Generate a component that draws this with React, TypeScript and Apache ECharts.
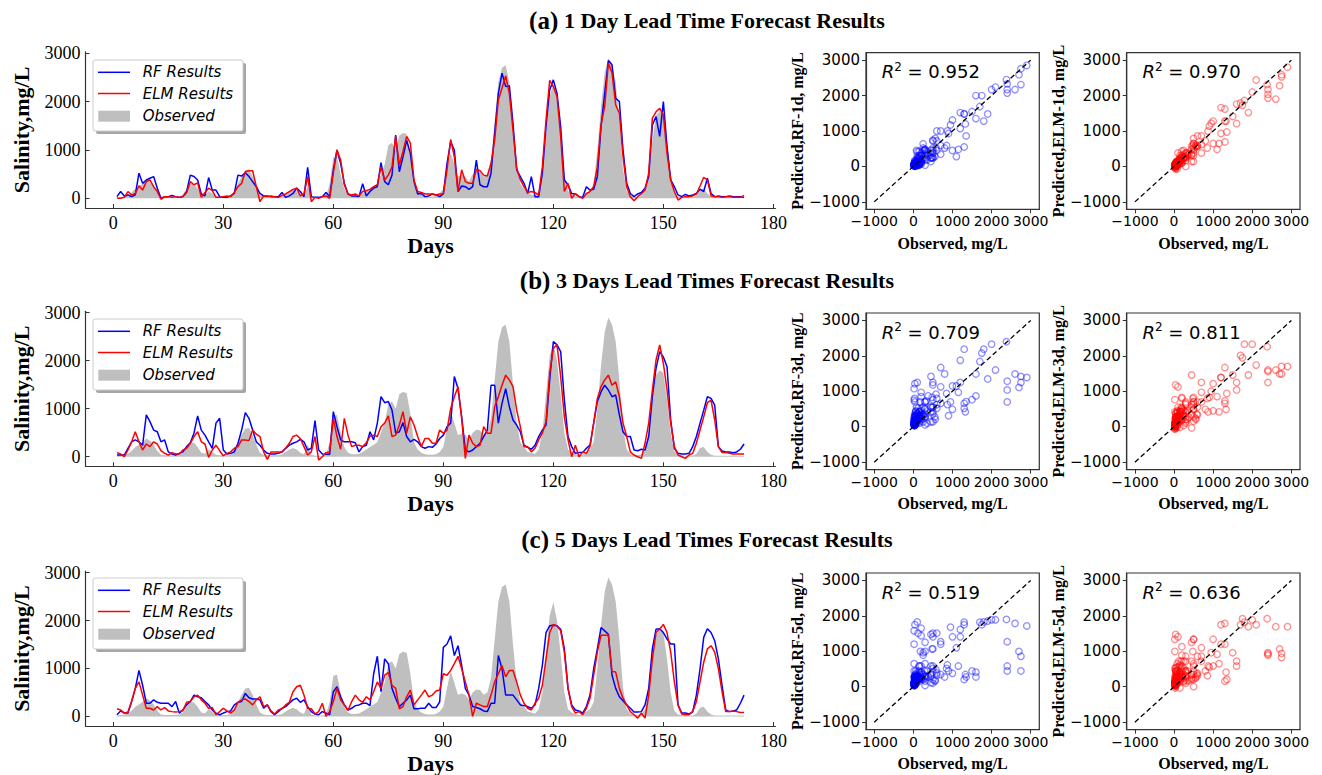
import React, { useEffect, useRef } from 'react';
import * as echarts from 'echarts';

// ---------------- DATA ----------------
const DAYS: number[] = Array.from({ length: 172 }, (_, i) => i + 1);

const OBSERVED = [
  20, 30, 40, 60, 120, 200, 250, 300, 380, 330, 250, 120, 40, 30, 30, 30, 30, 40, 80, 200,
  300, 290, 200, 80, 60, 150, 100, 40, 30, 30, 30, 50, 150, 300, 450, 580, 600, 450, 250, 80,
  40, 30, 30, 30, 30, 50, 100, 150, 180, 150, 80, 50, 250, 40, 20, 20, 20, 40, 300, 850,
  870, 500, 200, 80, 50, 50, 60, 100, 150, 200, 250, 300, 500, 700, 1100, 1150, 1000, 1300, 1350, 1330,
  900, 300, 150, 80, 50, 40, 40, 50, 100, 200, 600, 950, 700, 450, 480, 450, 350, 500, 560, 550,
  450, 500, 800, 1600, 2400, 2700, 2750, 2400, 1500, 700, 300, 200, 100, 80, 60, 150, 500, 1300, 2100, 2380,
  2000, 1300, 500, 150, 80, 50, 30, 40, 100, 150, 300, 1000, 1900, 2600, 2900, 2750, 2400, 1600, 600, 150,
  60, 30, 30, 50, 150, 500, 1200, 1700, 1800, 1750, 1200, 500, 120, 40, 30, 20, 20, 20, 60, 180,
  200, 100, 40, 20, 20, 20, 20, 20, 20, 20, 20, 20,
];

const RF_1D = [
  35, 140, 50, 70, 35, 70, 520, 310, 380, 415, 450, 210, 0, 35, 35, 60, 35, 20, 35, 140,
  480, 450, 380, 90, 50, 430, 170, 170, 35, 20, 20, 50, 100, 480, 460, 530, 450, 345, 240, 100,
  50, 50, 35, 35, 35, 120, 20, 50, 100, 210, 140, 35, 640, 35, 20, 20, 35, 120, 35, 590,
  1000, 720, 310, 90, 50, 50, 35, 300, 50, 140, 210, 240, 740, 345, 280, 480, 1310, 550, 860, 1200,
  930, 345, 90, 100, 35, 50, 90, 70, 35, 90, 720, 1170, 1000, 140, 255, 240, 185, 240, 790, 280,
  240, 240, 520, 1350, 2170, 2590, 2310, 2330, 1550, 590, 450, 310, 100, 450, 35, 35, 520, 1480, 2240, 2450,
  2170, 1480, 380, 280, 100, 90, 35, 20, 240, 170, 185, 450, 1480, 2170, 2850, 2760, 2070, 2000, 1000, 310,
  100, 35, 90, 120, 210, 450, 1520, 1690, 1280, 2000, 1070, 380, 240, 70, 35, 80, 50, 70, 100, 190,
  140, 415, 100, 35, 50, 35, 35, 50, 35, 35, 35, 20,
];

const ELM_1D = [
  0, 0, 20, 140, 70, 100, 260, 170, 345, 380, 240, 140, -20, 35, 35, 20, 35, 20, 35, 120,
  345, 280, 320, 20, 120, 210, 160, 20, 20, 35, 50, 35, 120, 240, 310, 550, 570, 570, 240, -70,
  50, 35, 50, 35, 20, 60, 90, 140, 185, 210, 50, 90, 450, -70, 20, 0, 35, 50, 0, 520,
  1000, 790, 280, 90, 70, 90, 50, 140, 160, 185, 240, 280, 650, 380, 480, 650, 1280, 690, 970, 1280,
  1140, 380, 140, 120, 90, 90, 90, 70, 90, 90, 590, 1220, 860, 140, 590, 345, 310, 310, 600, 570,
  480, 460, 720, 1210, 2035, 2280, 2530, 2170, 1410, 620, 380, 240, 120, 140, 120, 70, 650, 1620, 2440, 2310,
  2100, 1280, 140, 310, 0, 100, 35, 0, 100, 140, 240, 650, 1520, 1900, 2800, 2590, 1930, 1760, 860, 240,
  35, -50, 35, 90, 170, 520, 1660, 1790, 1860, 1725, 930, 380, 140, -35, 20, 35, 35, 50, 90, 255,
  435, 380, 50, 35, 35, 20, 35, 35, 20, 20, 20, 60,
];

const RF_3D = [
  35, 35, 35, 175, 310, 350, 310, 240, 870, 730, 555, 520, 310, 350, 100, 55, 35, 70, 100, 210,
  290, 490, 850, 555, 450, 310, 175, 700, 800, 140, 55, 70, 100, 280, 555, 920, 800, 555, 310, 240,
  140, 70, 55, 55, 70, 100, 175, 240, 280, 310, 360, 310, 140, 175, 750, 140, 55, 50, 50, 940,
  625, 350, 310, 310, 310, 290, 100, 210, 240, 520, 350, 700, 1250, 1125, 1150, 970, 490, 520, 710, 420,
  310, 360, 310, 210, 175, 210, 195, 265, 380, 450, 625, 700, 1670, 1420, 830, 140, 100, 140, 210, 280,
  420, 555, 1490, 1490, 700, 1110, 1420, 1040, 765, 660, 520, 240, 195, 155, 240, 420, 555, 660, 1600, 2400,
  2330, 2190, 1180, 420, 210, 70, 85, 85, 175, 240, 700, 1150, 1350, 1490, 1390, 1250, 1285, 870, 520, 420,
  420, 140, 125, 155, 140, 420, 1250, 1840, 2190, 2080, 1875, 765, 175, 70, 55, 55, 70, 210, 420, 700,
  970, 1250, 1215, 1075, 210, 120, 100, 100, 85, 100, 155, 265,
];

const ELM_3D = [
  85, 55, 0, 140, 310, 520, 310, 140, 265, 210, 310, 265, 125, 70, 35, 85, 55, 55, 140, 175,
  280, 420, 520, 310, 265, -15, 140, 240, 125, 20, 70, 100, 175, 210, 350, 350, 335, 555, 470, 420,
  100, -55, 100, 100, 100, 100, 175, 280, 420, 450, 380, 210, 35, 100, 420, -70, 0, 85, 100, 800,
  420, 155, 800, 450, 210, 240, 240, 210, 290, 430, 450, 420, 625, 700, 850, 420, 450, 660, 940, 490,
  830, 660, 420, 210, 380, 380, 280, 280, 555, 490, 555, 1000, 1250, 1460, 800, -35, 450, 280, 210, 240,
  625, 490, 490, 1040, 1250, 1490, 1700, 1600, 1460, 970, 625, 210, 210, 100, 175, 350, 490, 730, 1740, 2260,
  2330, 1670, 830, 350, 0, 240, 0, 100, 70, 210, 700, 1215, 1460, 1600, 1700, 1490, 1560, 1250, 700, 420,
  100, 35, 0, -35, 280, 700, 1390, 2015, 2330, 1945, 1390, 700, 210, 35, 0, -35, 35, 70, 280, 555,
  830, 1125, 1180, 765, 210, 85, 85, 70, 55, 55, 55, 55,
];

const RF_5D = [
  35, 115, 70, 70, 310, 585, 960, 650, 275, 275, 345, 295, 275, 275, 275, 205, 310, 70, 135, 240,
  310, 445, 410, 390, 310, 240, 135, 70, 35, 70, 100, 115, 240, 295, 310, 480, 390, 365, 365, 345,
  170, 240, 100, 35, 100, 170, 205, 275, 345, 380, 295, 345, 205, 100, 50, 35, 100, 70, 35, 515,
  620, 410, 240, 135, 170, 225, 240, 275, 275, 225, 890, 1255, 515, 1200, 1100, 585, 380, 205, 275, 345,
  445, 160, 160, 170, 170, 275, 185, 185, 300, 1440, 1510, 1680, 1270, 1475, 1065, 585, 445, 205, 185, 160,
  115, 100, 275, 275, 1270, 995, 445, 445, 445, 345, 240, 225, 205, 170, 240, 585, 1065, 1750, 1890, 1900,
  1890, 1820, 1410, 585, 240, 135, 115, 70, 205, 445, 995, 1410, 1855, 1785, 1715, 860, 585, 410, 325, 240,
  170, 90, 90, 100, 240, 585, 1410, 1820, 1830, 1750, 1615, 1510, 1510, 240, 70, 70, 50, 100, 445, 995,
  1650, 1830, 1750, 1580, 1200, 650, 135, 100, 115, 135, 275, 445,
];

const ELM_5D = [
  160, 135, 70, 90, 310, 585, 720, 445, 170, 170, 135, 205, 135, 185, 115, 100, 90, 100, 125, 295,
  310, 410, 445, 345, 275, 170, 185, 35, 100, 170, 115, 70, 135, 295, 345, 365, 310, 240, 345, 410,
  205, 240, 115, 50, 135, 160, 240, 295, 515, 620, 650, 445, 170, 160, 50, 100, 275, 0, 100, 310,
  585, 345, 240, 125, 310, 445, 345, 295, 410, 345, 515, 720, 585, 860, 915, 650, 585, 160, 205, 410,
  550, 240, 345, 445, 550, 410, 445, 530, 550, 890, 860, 960, 1100, 1255, 995, 720, 445, 0, 275, 240,
  205, 205, 445, 720, 890, 1065, 825, 960, 960, 720, 445, 275, 170, 135, 275, 380, 650, 1200, 1750, 1920,
  1890, 1785, 1340, 585, 205, 70, 100, 35, 170, 380, 860, 1340, 1695, 1695, 1695, 940, 925, 585, 380, 240,
  100, 35, -35, 70, -35, 445, 1200, 1750, 1820, 1920, 1750, 1340, 720, 240, 50, 35, 35, 100, 310, 720,
  1130, 1410, 1475, 1340, 995, 515, 100, 100, 115, 100, 80, 80,
];

const PANEL_PREFIX = ['(a)', '(b)', '(c)'];
const PANEL_TITLES = [
  ' 1 Day Lead Time Forecast Results',
  ' 3 Days Lead Times Forecast Results',
  ' 5 Days Lead Times Forecast Results',
];
const LEAD_TAGS = ['1d', '3d', '5d'];
const R2_RF = ['0.952', '0.709', '0.519'];
const R2_ELM = ['0.970', '0.811', '0.636'];
const RF_SERIES = [RF_1D, RF_3D, RF_5D];
const ELM_SERIES = [ELM_1D, ELM_3D, ELM_5D];

const DAY_TICKS = [0, 30, 60, 90, 120, 150, 180];
const SAL_TICKS = [0, 1000, 2000, 3000];
const SCATTER_TICKS = [-1000, 0, 1000, 2000, 3000];
const DIAGONAL = [[-1000, -1000], [3000, 3000]];

// ---------------- LAYOUT / STYLE ----------------
const SERIF = 'Liberation Serif';
const SANS = 'DejaVu Sans';
const TS_TOP = [51.8, 311.3, 571.2];
const TS_H = [156.2, 155, 156.8];
const SC_TOP = [52.7, 313, 573];
const SC_H = 156.6;
const SC_LEFT = [866, 1126.7];
const SC_W = 173.3;
const TITLE_Y = [20, 280, 539];
const LEGEND_DY = [0, 259, 518];
const AXIS_COLOR = '#333';
const BLUE = '#0000ff';
const RED = '#ff0000';
const GRAY = '#bfbfbf';

const plain = (v: number) => String(v);
const minus = (v: number) => (v < 0 ? '\u2212' + Math.abs(v) : String(v));

function buildOption() {
  const grid: any[] = [];
  const xAxis: any[] = [];
  const yAxis: any[] = [];
  const series: any[] = [];
  const graphic: any[] = [];

  for (let r = 0; r < 3; r++) {
    // ---- time-series panel ----
    const g = grid.length;
    grid.push({ left: 85.6, top: TS_TOP[r], width: 689.8, height: TS_H[r] });
    xAxis.push({
      gridIndex: g, type: 'value', min: -7.55, max: 180.55,
      axisLine: { show: true, onZero: false, lineStyle: { color: AXIS_COLOR, width: 1.2 } },
      axisTick: { show: true, inside: true, length: 4, customValues: DAY_TICKS, lineStyle: { color: AXIS_COLOR } },
      axisLabel: { customValues: DAY_TICKS, formatter: plain, fontFamily: SERIF, fontSize: 18, color: '#000', margin: 6 },
      splitLine: { show: false },
      name: 'Days', nameLocation: 'middle', nameGap: 26,
      nameTextStyle: { fontFamily: SERIF, fontWeight: 'bold', fontSize: 22, color: '#000' },
    });
    yAxis.push({
      gridIndex: g, type: 'value', min: -200, max: 3030,
      axisLine: { show: true, onZero: false, lineStyle: { color: AXIS_COLOR, width: 1.2 } },
      axisTick: { show: true, inside: true, length: 4, customValues: SAL_TICKS, lineStyle: { color: AXIS_COLOR } },
      axisLabel: { customValues: SAL_TICKS, formatter: plain, fontFamily: SERIF, fontSize: 18, color: '#000', margin: 5 },
      splitLine: { show: false },
      name: 'Salinity,mg/L', nameLocation: 'middle', nameGap: 53,
      nameTextStyle: { fontFamily: SERIF, fontWeight: 'bold', fontSize: 22, color: '#000' },
    });
    series.push({
      type: 'line', name: 'Observed', xAxisIndex: g, yAxisIndex: g,
      data: DAYS.map((d, i) => [d, OBSERVED[i]]),
      symbol: 'none', lineStyle: { width: 0 }, itemStyle: { color: GRAY },
      areaStyle: { color: GRAY, opacity: 1 }, silent: true, z: 1,
    });
    series.push({
      type: 'line', name: 'RF Results', xAxisIndex: g, yAxisIndex: g,
      data: DAYS.map((d, i) => [d, RF_SERIES[r][i]]),
      symbol: 'none', lineStyle: { color: BLUE, width: 1.5 }, itemStyle: { color: BLUE }, z: 2,
    });
    series.push({
      type: 'line', name: 'ELM Results', xAxisIndex: g, yAxisIndex: g,
      data: DAYS.map((d, i) => [d, ELM_SERIES[r][i]]),
      symbol: 'none', lineStyle: { color: RED, width: 1.5 }, itemStyle: { color: RED }, z: 3,
    });

    // ---- scatter panels ----
    [0, 1].forEach((k) => {
      const isRF = k === 0;
      const pred = isRF ? RF_SERIES[r] : ELM_SERIES[r];
      const gi = grid.length;
      grid.push({
        left: SC_LEFT[k], top: SC_TOP[r], width: SC_W, height: SC_H,
        show: true, borderColor: AXIS_COLOR, borderWidth: 1.2, backgroundColor: 'transparent',
      });
      xAxis.push({
        gridIndex: gi, type: 'value', min: -1210, max: 3220,
        axisLine: { show: true, onZero: false, lineStyle: { color: AXIS_COLOR, width: 1.2 } },
        axisTick: { show: true, inside: false, length: 4, customValues: SCATTER_TICKS, lineStyle: { color: AXIS_COLOR } },
        axisLabel: { customValues: SCATTER_TICKS, formatter: minus, fontFamily: SANS, fontSize: 14, color: '#000', margin: 5 },
        splitLine: { show: false },
        name: 'Observed, mg/L', nameLocation: 'middle', nameGap: 26,
        nameTextStyle: { fontFamily: SERIF, fontWeight: 'bold', fontSize: 16, color: '#000' },
      });
      yAxis.push({
        gridIndex: gi, type: 'value', min: -1210, max: 3210,
        axisLine: { show: true, onZero: false, lineStyle: { color: AXIS_COLOR, width: 1.2 } },
        axisTick: { show: true, inside: false, length: 4, customValues: SCATTER_TICKS, lineStyle: { color: AXIS_COLOR } },
        axisLabel: { customValues: SCATTER_TICKS, formatter: minus, fontFamily: SANS, fontSize: 15, color: '#000', margin: 6 },
        splitLine: { show: false },
        name: `Predicted,${isRF ? 'RF' : 'ELM'}-${LEAD_TAGS[r]}, mg/L`, nameLocation: 'middle', nameGap: 57,
        nameTextStyle: { fontFamily: SERIF, fontWeight: 'bold', fontSize: 16, color: '#000' },
      });
      series.push({
        type: 'scatter', name: isRF ? 'RF scatter' : 'ELM scatter', xAxisIndex: gi, yAxisIndex: gi,
        data: OBSERVED.map((o, i) => [o, pred[i]]),
        symbol: 'circle', symbolSize: 6.5,
        itemStyle: {
          color: 'rgba(0,0,0,0)',
          borderColor: isRF ? 'rgba(0,0,255,0.55)' : 'rgba(255,0,0,0.55)',
          borderWidth: 1.3,
        },
        z: 2,
      });
      series.push({
        type: 'line', name: '1:1', xAxisIndex: gi, yAxisIndex: gi, data: DIAGONAL,
        symbol: 'none', lineStyle: { color: '#000', width: 1.3, type: [5, 3] }, silent: true, z: 3,
      });
      graphic.push({
        type: 'text', x: SC_LEFT[k] + 15.7, y: SC_TOP[r] + 19, z: 100,
        style: {
          text: `{i|R}{s|2}{n| = ${isRF ? R2_RF[r] : R2_ELM[r]}}`,
          verticalAlign: 'middle', textVerticalAlign: 'middle',
          rich: {
            i: { fontFamily: SANS, fontStyle: 'italic', fontSize: 18, fill: '#000', lineHeight: 22 },
            s: { fontFamily: SANS, fontSize: 12, fill: '#000', verticalAlign: 'top', lineHeight: 14 },
            n: { fontFamily: SANS, fontSize: 18, fill: '#000', lineHeight: 22 },
          },
        },
      });
    });

    // ---- titles ----
    graphic.push({
      type: 'text', x: 707, y: TITLE_Y[r], z: 100,
      style: {
        text: `{p|${PANEL_PREFIX[r]}}{t|${PANEL_TITLES[r]}}`,
        align: 'center', textAlign: 'center', verticalAlign: 'middle', textVerticalAlign: 'middle',
        rich: {
          p: { fontFamily: SERIF, fontWeight: 'bold', fontSize: 25, fill: '#000' },
          t: { fontFamily: SERIF, fontWeight: 'bold', fontSize: 22, fill: '#000' },
        },
      },
    });

    // ---- legend ----
    const dy = LEGEND_DY[r];
    graphic.push({
      type: 'group', z: 100, children: [
        { type: 'rect', shape: { x: 96, y: 63 + dy, width: 150, height: 71, r: 2 }, style: { fill: 'rgba(0,0,0,0.35)' } },
        { type: 'rect', shape: { x: 93, y: 60 + dy, width: 150, height: 71, r: 2 }, style: { fill: '#fff', stroke: '#cccccc', lineWidth: 1 } },
        { type: 'line', shape: { x1: 98, y1: 72.3 + dy, x2: 130, y2: 72.3 + dy }, style: { stroke: BLUE, lineWidth: 1.5 } },
        { type: 'line', shape: { x1: 98, y1: 93.5 + dy, x2: 130, y2: 93.5 + dy }, style: { stroke: RED, lineWidth: 1.5 } },
        { type: 'rect', shape: { x: 98.3, y: 110.7 + dy, width: 31.7, height: 11 }, style: { fill: GRAY } },
        { type: 'text', x: 142.7, y: 72.3 + dy, style: { text: 'RF Results', fontFamily: SANS, fontStyle: 'italic', fontSize: 15, fill: '#000', verticalAlign: 'middle', textVerticalAlign: 'middle' } },
        { type: 'text', x: 142.7, y: 93.5 + dy, style: { text: 'ELM Results', fontFamily: SANS, fontStyle: 'italic', fontSize: 15, fill: '#000', verticalAlign: 'middle', textVerticalAlign: 'middle' } },
        { type: 'text', x: 142.7, y: 116.2 + dy, style: { text: 'Observed', fontFamily: SANS, fontStyle: 'italic', fontSize: 15, fill: '#000', verticalAlign: 'middle', textVerticalAlign: 'middle' } },
      ],
    });
  }

  return {
    animation: false,
    backgroundColor: '#fff',
    grid, xAxis, yAxis, series, graphic,
  };
}

export default function App() {
  const ref = useRef<HTMLDivElement>(null);
  useEffect(() => {
    if (!ref.current) return;
    const chart = echarts.init(ref.current, null, { renderer: 'svg' });
    chart.setOption(buildOption() as any);
    return () => chart.dispose();
  }, []);
  return (
    <div
      ref={ref}
      style={{ position: 'fixed', left: 0, top: 0, width: 1322, height: 775, background: '#fff' }}
    />
  );
}
